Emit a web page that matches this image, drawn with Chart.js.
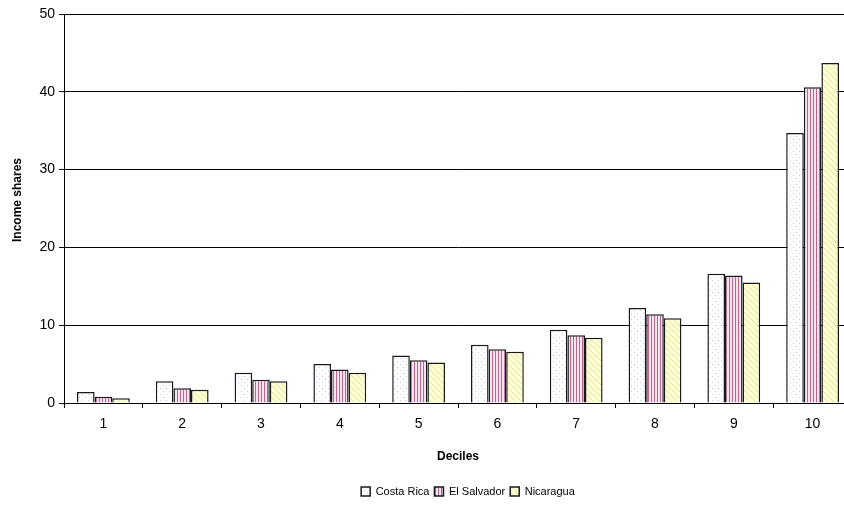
<!DOCTYPE html>
<html>
<head>
<meta charset="utf-8">
<script src="https://cdn.jsdelivr.net/npm/chart.js@4/dist/chart.umd.min.js"></script>
<style>
  html, body { margin: 0; padding: 0; background: #fff; overflow: hidden; width: 844px; height: 512px; }
  canvas { display: block; }
</style>
</head>
<body>
<canvas id="chart" width="860" height="512"></canvas>
<script>
// Income shares by decile
const deciles = ['1', '2', '3', '4', '5', '6', '7', '8', '9', '10'];
const costaRica  = [1.4, 2.8, 3.9, 5.0, 6.1, 7.5, 9.4, 12.2, 16.6, 34.7];
const elSalvador = [0.8, 1.9, 3.0, 4.3, 5.5, 6.9, 8.7, 11.4, 16.4, 40.6];
const nicaragua  = [0.6, 1.7, 2.8, 3.9, 5.2, 6.6, 8.4, 10.9, 15.5, 43.7];
const yTicks = [0, 10, 20, 30, 40, 50];

const canvas = document.getElementById('chart');
const ctx = canvas.getContext('2d');
const FONT = 'Liberation Sans, Arial, sans-serif';

// Small repeating fills for the bars
function makePattern(w, h, paint) {
  const tile = document.createElement('canvas');
  tile.width = w; tile.height = h;
  paint(tile.getContext('2d'), w, h);
  return ctx.createPattern(tile, 'repeat');
}
const dotted = makePattern(6, 6, (g, w, h) => {
  g.fillStyle = '#ffffff'; g.fillRect(0, 0, w, h);
  g.fillStyle = '#c4c4f2';
  g.fillRect(1, 1, 1, 1); g.fillRect(4, 4, 1, 1);
});
const striped = makePattern(3, 1, (g, w, h) => {
  g.fillStyle = '#f5e4ed'; g.fillRect(0, 0, w, h);
  g.fillStyle = '#b8668f'; g.fillRect(0, 0, 1, h);
});
const hatched = makePattern(6, 6, (g, w, h) => {
  g.fillStyle = '#ffffd6'; g.fillRect(0, 0, w, h);
  g.fillStyle = '#e4e49a';
  for (let i = 0; i < w; i++) g.fillRect(i, i, 1, 1);
});

// Vertical axis title, placed by hand; the legend row sits right of centre
const sideTitle = {
  id: 'sideTitle',
  afterLayout(chart) {
    const lg = chart.legend;
    if (lg) { lg.left += 42; lg.right += 42; }
  },
  afterDraw(chart) {
    const c = chart.ctx;
    c.save();
    c.translate(18, 200);
    c.rotate(-Math.PI / 2);
    c.font = 'bold 12px ' + FONT;
    c.fillStyle = '#000';
    c.textAlign = 'center';
    c.textBaseline = 'middle';
    c.fillText('Income shares', 0, 0);
    c.restore();
  }
};

const edge = '#1a1a1a';

new Chart(ctx, {
  type: 'bar',
  data: {
    labels: deciles,
    datasets: [
      { label: 'Costa Rica',  data: costaRica,  backgroundColor: dotted,  borderColor: edge, borderWidth: 1.5 },
      { label: 'El Salvador', data: elSalvador, backgroundColor: striped, borderColor: edge, borderWidth: 1.5 },
      { label: 'Nicaragua',   data: nicaragua,  backgroundColor: hatched, borderColor: edge, borderWidth: 1.5 }
    ]
  },
  plugins: [sideTitle],
  options: {
    responsive: false,
    animation: false,
    devicePixelRatio: 1,
    layout: { padding: { left: 0, right: 8, top: 14, bottom: 5 } },
    datasets: { bar: { categoryPercentage: 0.67, barPercentage: 1 } },
    plugins: {
      tooltip: { enabled: false },
      legend: {
        position: 'bottom',
        labels: {
          color: '#000',
          font: { family: FONT, size: 11 },
          boxWidth: 9,
          boxHeight: 9,
          padding: 5
        }
      }
    },
    scales: {
      x: {
        grid: { display: true, drawOnChartArea: false, drawTicks: true, tickLength: 5, color: '#000', offset: true },
        border: { display: true, color: '#000', width: 1 },
        ticks: { color: '#000', font: { family: FONT, size: 14 }, padding: 8, maxRotation: 0 },
        title: {
          display: true, text: 'Deciles', color: '#000',
          font: { family: FONT, size: 12, weight: 'bold' },
          padding: { top: 4, bottom: 17 }
        },
        afterFit(scale) { scale.height = 78; }
      },
      y: {
        min: 0, max: 50,
        afterBuildTicks(scale) { scale.ticks = yTicks.map(v => ({ value: v })); },
        grid: { color: '#000', tickLength: 5, drawTicks: true },
        border: { display: true, color: '#000', width: 1 },
        ticks: { color: '#000', font: { family: FONT, size: 14 }, padding: 4 },
        title: { display: false },
        afterFit(scale) { scale.width = 64; }
      }
    }
  }
});
</script>
</body>
</html>
